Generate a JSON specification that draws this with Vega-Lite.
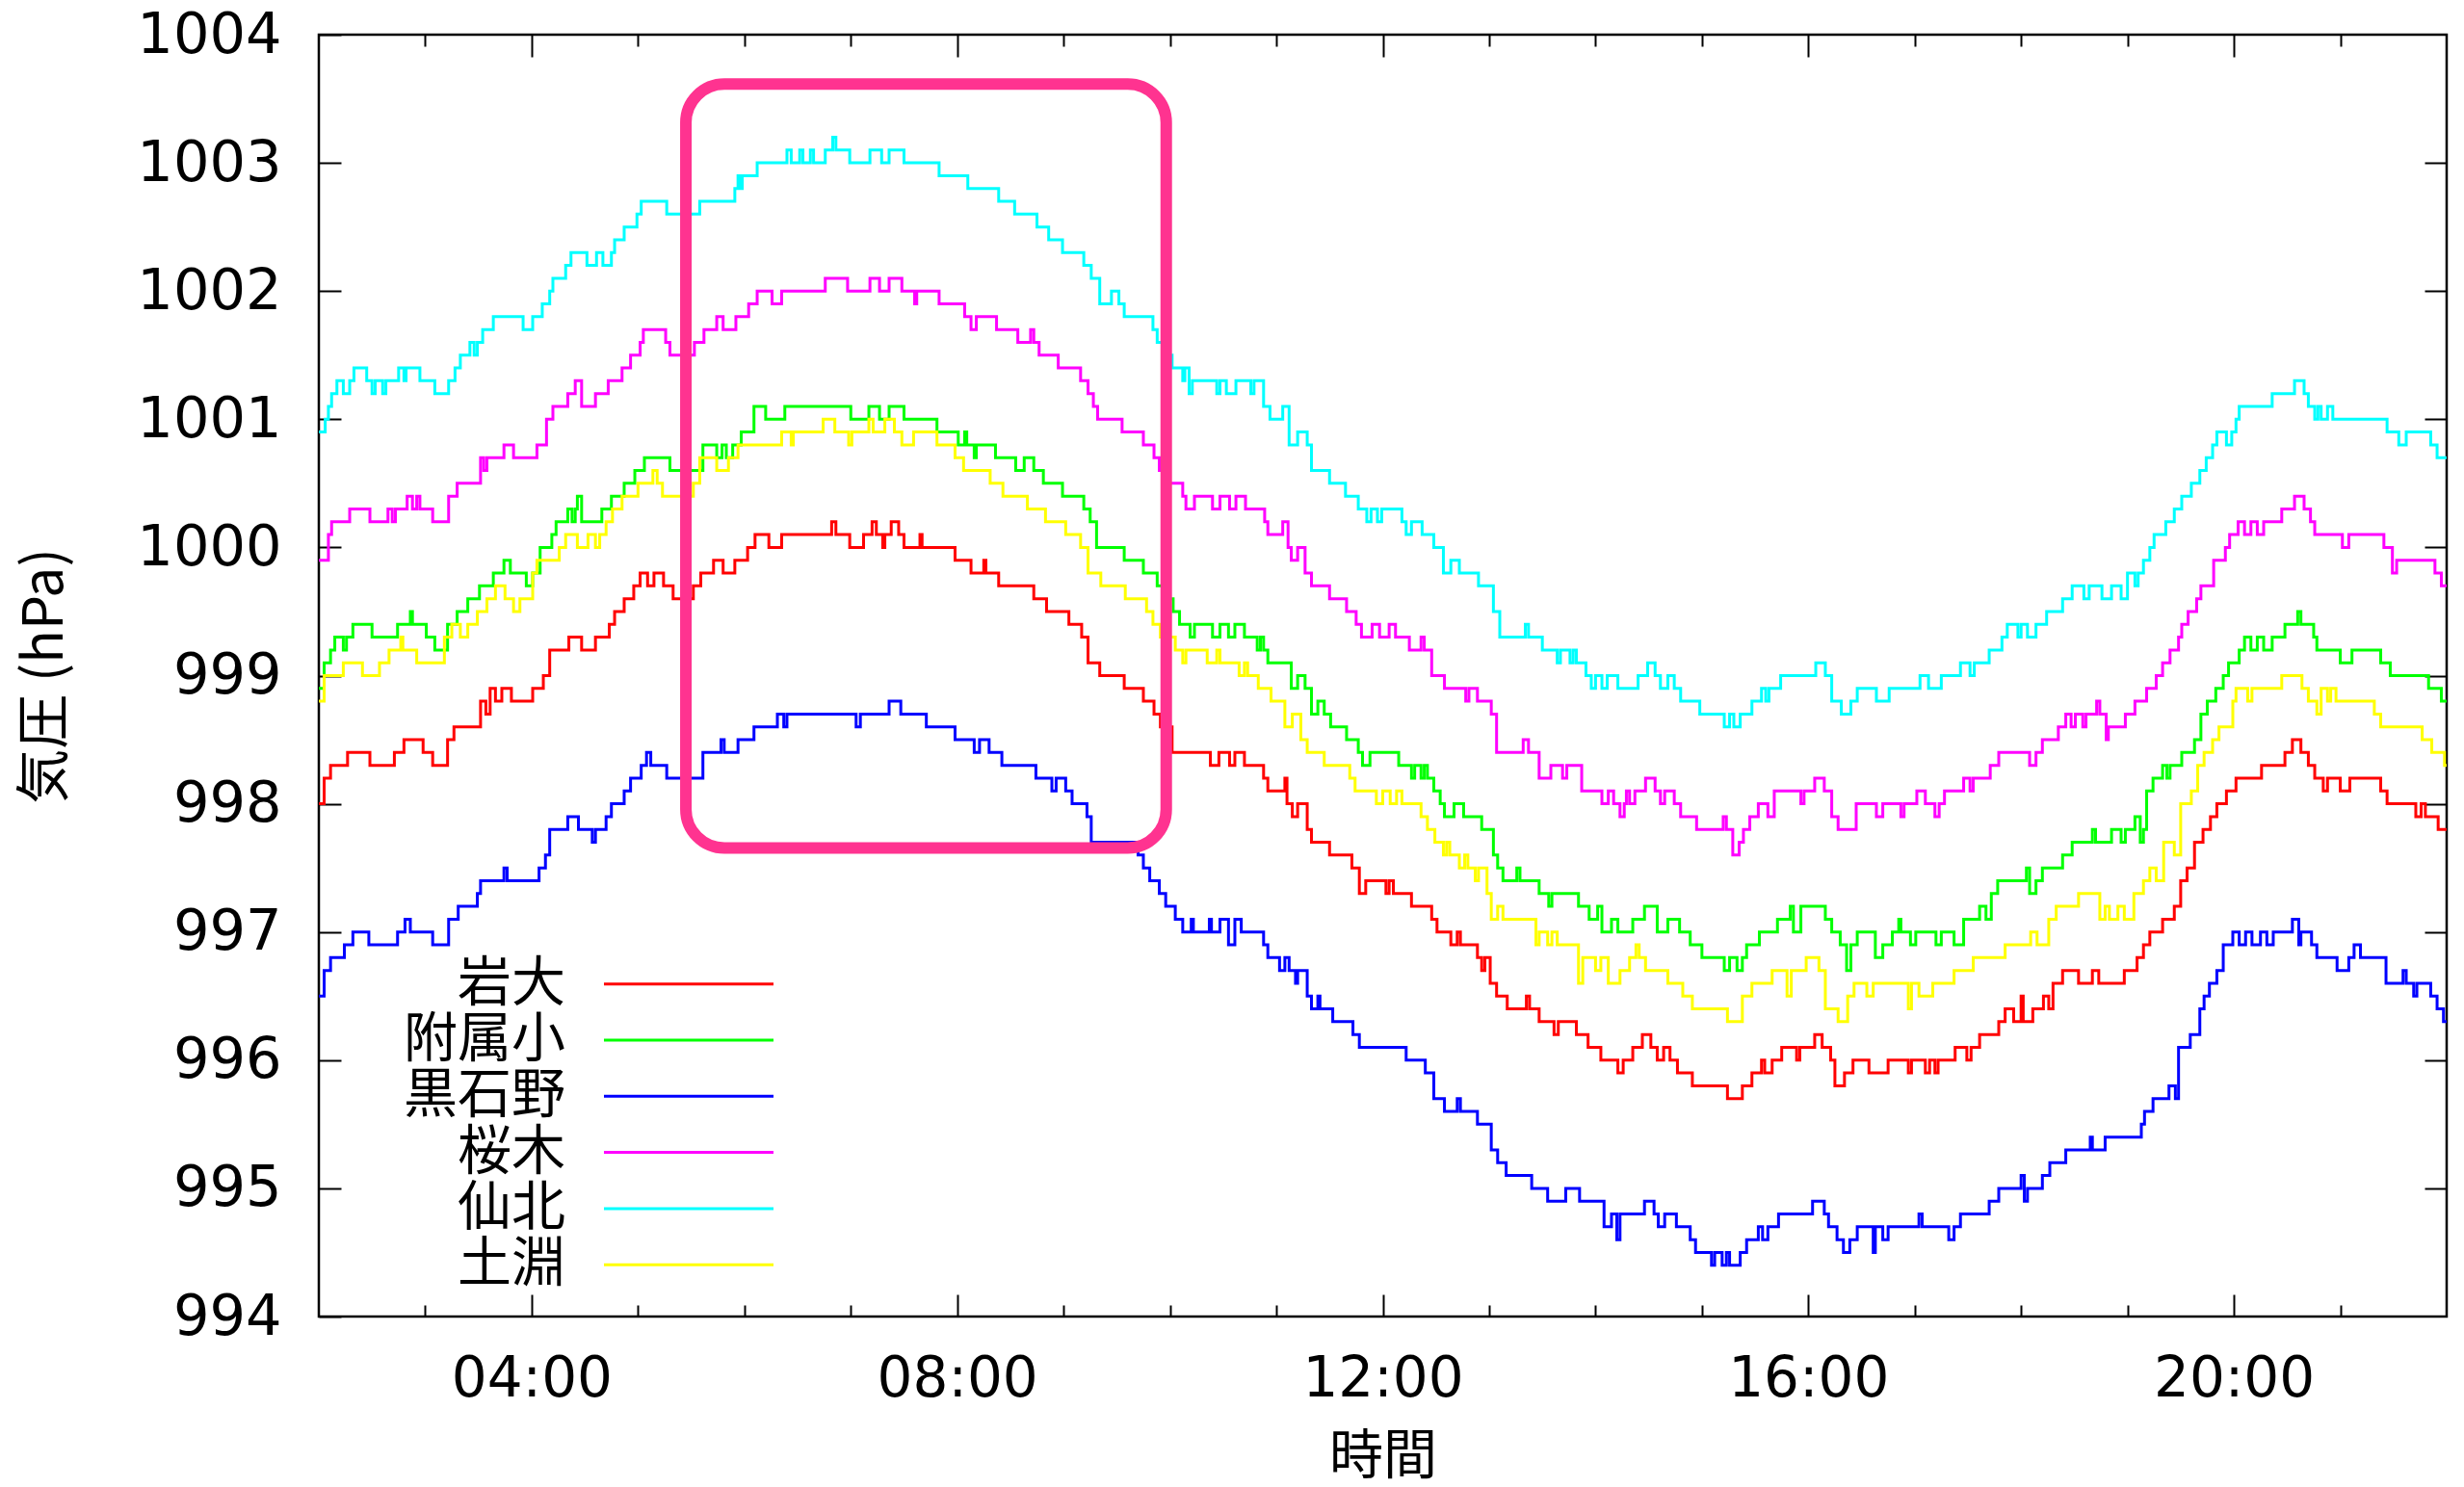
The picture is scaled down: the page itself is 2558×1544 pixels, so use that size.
{
"$schema":"https://vega.github.io/schema/vega-lite/v6.json",
"width":2209,"height":1331,
"autosize":{"type":"none"},
"padding":{"left":331,"top":36,"right":18,"bottom":177},
"background":"white",
"config":{"view":{"stroke":"black","strokeWidth":2.5}},
"datasets":{
"box":[{"t1":5.45,"t2":9.965,"p1":997.655,"p2":1003.615}],
"series":[
{"s":"岩大","t":2.00,"p":998.0},{"s":"岩大","t":2.05,"p":998.2},{"s":"岩大","t":2.11,"p":998.3},{"s":"岩大","t":2.27,"p":998.4},{"s":"岩大","t":2.48,"p":998.3},{"s":"岩大","t":2.71,"p":998.4},{"s":"岩大","t":2.80,"p":998.5},{"s":"岩大","t":2.98,"p":998.4},{"s":"岩大","t":3.07,"p":998.3},{"s":"岩大","t":3.21,"p":998.5},{"s":"岩大","t":3.27,"p":998.6},{"s":"岩大","t":3.52,"p":998.8},{"s":"岩大","t":3.57,"p":998.7},{"s":"岩大","t":3.61,"p":998.9},{"s":"岩大","t":3.66,"p":998.8},{"s":"岩大","t":3.72,"p":998.9},{"s":"岩大","t":3.81,"p":998.8},{"s":"岩大","t":4.01,"p":998.9},{"s":"岩大","t":4.11,"p":999.0},{"s":"岩大","t":4.17,"p":999.2},{"s":"岩大","t":4.35,"p":999.3},{"s":"岩大","t":4.47,"p":999.2},{"s":"岩大","t":4.60,"p":999.3},{"s":"岩大","t":4.73,"p":999.4},{"s":"岩大","t":4.78,"p":999.5},{"s":"岩大","t":4.87,"p":999.6},{"s":"岩大","t":4.96,"p":999.7},{"s":"岩大","t":5.02,"p":999.8},{"s":"岩大","t":5.09,"p":999.7},{"s":"岩大","t":5.15,"p":999.8},{"s":"岩大","t":5.24,"p":999.7},{"s":"岩大","t":5.33,"p":999.6},{"s":"岩大","t":5.52,"p":999.7},{"s":"岩大","t":5.59,"p":999.8},{"s":"岩大","t":5.71,"p":999.9},{"s":"岩大","t":5.80,"p":999.8},{"s":"岩大","t":5.91,"p":999.9},{"s":"岩大","t":6.03,"p":1000.0},{"s":"岩大","t":6.10,"p":1000.1},{"s":"岩大","t":6.23,"p":1000.0},{"s":"岩大","t":6.35,"p":1000.1},{"s":"岩大","t":6.82,"p":1000.2},{"s":"岩大","t":6.86,"p":1000.1},{"s":"岩大","t":6.99,"p":1000.0},{"s":"岩大","t":7.12,"p":1000.1},{"s":"岩大","t":7.20,"p":1000.2},{"s":"岩大","t":7.24,"p":1000.1},{"s":"岩大","t":7.30,"p":1000.0},{"s":"岩大","t":7.32,"p":1000.1},{"s":"岩大","t":7.38,"p":1000.2},{"s":"岩大","t":7.45,"p":1000.1},{"s":"岩大","t":7.50,"p":1000.0},{"s":"岩大","t":7.65,"p":1000.1},{"s":"岩大","t":7.67,"p":1000.0},{"s":"岩大","t":7.98,"p":999.9},{"s":"岩大","t":8.13,"p":999.8},{"s":"岩大","t":8.25,"p":999.9},{"s":"岩大","t":8.27,"p":999.8},{"s":"岩大","t":8.39,"p":999.7},{"s":"岩大","t":8.72,"p":999.6},{"s":"岩大","t":8.84,"p":999.5},{"s":"岩大","t":9.05,"p":999.4},{"s":"岩大","t":9.17,"p":999.3},{"s":"岩大","t":9.23,"p":999.1},{"s":"岩大","t":9.34,"p":999.0},{"s":"岩大","t":9.57,"p":998.9},{"s":"岩大","t":9.75,"p":998.8},{"s":"岩大","t":9.85,"p":998.7},{"s":"岩大","t":9.91,"p":998.6},{"s":"岩大","t":10.02,"p":998.4},{"s":"岩大","t":10.38,"p":998.3},{"s":"岩大","t":10.46,"p":998.4},{"s":"岩大","t":10.56,"p":998.3},{"s":"岩大","t":10.61,"p":998.4},{"s":"岩大","t":10.70,"p":998.3},{"s":"岩大","t":10.88,"p":998.2},{"s":"岩大","t":10.92,"p":998.1},{"s":"岩大","t":11.08,"p":998.2},{"s":"岩大","t":11.10,"p":998.0},{"s":"岩大","t":11.15,"p":997.9},{"s":"岩大","t":11.20,"p":998.0},{"s":"岩大","t":11.29,"p":997.8},{"s":"岩大","t":11.33,"p":997.7},{"s":"岩大","t":11.50,"p":997.6},{"s":"岩大","t":11.71,"p":997.5},{"s":"岩大","t":11.78,"p":997.3},{"s":"岩大","t":11.84,"p":997.4},{"s":"岩大","t":12.03,"p":997.3},{"s":"岩大","t":12.06,"p":997.4},{"s":"岩大","t":12.10,"p":997.3},{"s":"岩大","t":12.27,"p":997.2},{"s":"岩大","t":12.46,"p":997.1},{"s":"岩大","t":12.51,"p":997.0},{"s":"岩大","t":12.64,"p":996.9},{"s":"岩大","t":12.70,"p":997.0},{"s":"岩大","t":12.73,"p":996.9},{"s":"岩大","t":12.89,"p":996.8},{"s":"岩大","t":12.93,"p":996.7},{"s":"岩大","t":12.96,"p":996.8},{"s":"岩大","t":13.01,"p":996.6},{"s":"岩大","t":13.07,"p":996.5},{"s":"岩大","t":13.17,"p":996.4},{"s":"岩大","t":13.35,"p":996.5},{"s":"岩大","t":13.38,"p":996.4},{"s":"岩大","t":13.47,"p":996.3},{"s":"岩大","t":13.61,"p":996.2},{"s":"岩大","t":13.65,"p":996.3},{"s":"岩大","t":13.82,"p":996.2},{"s":"岩大","t":13.93,"p":996.1},{"s":"岩大","t":14.05,"p":996.0},{"s":"岩大","t":14.21,"p":995.9},{"s":"岩大","t":14.26,"p":996.0},{"s":"岩大","t":14.35,"p":996.1},{"s":"岩大","t":14.44,"p":996.2},{"s":"岩大","t":14.52,"p":996.1},{"s":"岩大","t":14.58,"p":996.0},{"s":"岩大","t":14.64,"p":996.1},{"s":"岩大","t":14.70,"p":996.0},{"s":"岩大","t":14.77,"p":995.9},{"s":"岩大","t":14.91,"p":995.8},{"s":"岩大","t":15.24,"p":995.7},{"s":"岩大","t":15.38,"p":995.8},{"s":"岩大","t":15.47,"p":995.9},{"s":"岩大","t":15.56,"p":996.0},{"s":"岩大","t":15.59,"p":995.9},{"s":"岩大","t":15.66,"p":996.0},{"s":"岩大","t":15.75,"p":996.1},{"s":"岩大","t":15.89,"p":996.0},{"s":"岩大","t":15.92,"p":996.1},{"s":"岩大","t":16.06,"p":996.2},{"s":"岩大","t":16.13,"p":996.1},{"s":"岩大","t":16.21,"p":996.0},{"s":"岩大","t":16.25,"p":995.8},{"s":"岩大","t":16.34,"p":995.9},{"s":"岩大","t":16.42,"p":996.0},{"s":"岩大","t":16.57,"p":995.9},{"s":"岩大","t":16.75,"p":996.0},{"s":"岩大","t":16.94,"p":995.9},{"s":"岩大","t":16.97,"p":996.0},{"s":"岩大","t":17.10,"p":995.9},{"s":"岩大","t":17.14,"p":996.0},{"s":"岩大","t":17.19,"p":995.9},{"s":"岩大","t":17.22,"p":996.0},{"s":"岩大","t":17.38,"p":996.1},{"s":"岩大","t":17.49,"p":996.0},{"s":"岩大","t":17.53,"p":996.1},{"s":"岩大","t":17.61,"p":996.2},{"s":"岩大","t":17.79,"p":996.3},{"s":"岩大","t":17.85,"p":996.4},{"s":"岩大","t":17.93,"p":996.3},{"s":"岩大","t":18.00,"p":996.5},{"s":"岩大","t":18.02,"p":996.3},{"s":"岩大","t":18.11,"p":996.4},{"s":"岩大","t":18.21,"p":996.5},{"s":"岩大","t":18.26,"p":996.4},{"s":"岩大","t":18.30,"p":996.6},{"s":"岩大","t":18.39,"p":996.7},{"s":"岩大","t":18.54,"p":996.6},{"s":"岩大","t":18.67,"p":996.7},{"s":"岩大","t":18.73,"p":996.6},{"s":"岩大","t":18.97,"p":996.7},{"s":"岩大","t":19.09,"p":996.8},{"s":"岩大","t":19.15,"p":996.9},{"s":"岩大","t":19.21,"p":997.0},{"s":"岩大","t":19.33,"p":997.1},{"s":"岩大","t":19.44,"p":997.2},{"s":"岩大","t":19.50,"p":997.4},{"s":"岩大","t":19.56,"p":997.5},{"s":"岩大","t":19.63,"p":997.7},{"s":"岩大","t":19.71,"p":997.8},{"s":"岩大","t":19.78,"p":997.9},{"s":"岩大","t":19.84,"p":998.0},{"s":"岩大","t":19.93,"p":998.1},{"s":"岩大","t":20.02,"p":998.2},{"s":"岩大","t":20.26,"p":998.3},{"s":"岩大","t":20.48,"p":998.4},{"s":"岩大","t":20.55,"p":998.5},{"s":"岩大","t":20.63,"p":998.4},{"s":"岩大","t":20.70,"p":998.3},{"s":"岩大","t":20.76,"p":998.2},{"s":"岩大","t":20.84,"p":998.1},{"s":"岩大","t":20.88,"p":998.2},{"s":"岩大","t":21.00,"p":998.1},{"s":"岩大","t":21.09,"p":998.2},{"s":"岩大","t":21.38,"p":998.1},{"s":"岩大","t":21.44,"p":998.0},{"s":"岩大","t":21.71,"p":997.9},{"s":"岩大","t":21.76,"p":998.0},{"s":"岩大","t":21.80,"p":997.9},{"s":"岩大","t":21.92,"p":997.8},{"s":"岩大","t":22.00,"p":997.8},
{"s":"附属小","t":2.00,"p":998.9},{"s":"附属小","t":2.05,"p":999.1},{"s":"附属小","t":2.11,"p":999.2},{"s":"附属小","t":2.15,"p":999.3},{"s":"附属小","t":2.23,"p":999.2},{"s":"附属小","t":2.26,"p":999.3},{"s":"附属小","t":2.32,"p":999.4},{"s":"附属小","t":2.50,"p":999.3},{"s":"附属小","t":2.74,"p":999.4},{"s":"附属小","t":2.86,"p":999.5},{"s":"附属小","t":2.88,"p":999.4},{"s":"附属小","t":3.01,"p":999.3},{"s":"附属小","t":3.09,"p":999.2},{"s":"附属小","t":3.21,"p":999.4},{"s":"附属小","t":3.30,"p":999.5},{"s":"附属小","t":3.40,"p":999.6},{"s":"附属小","t":3.51,"p":999.7},{"s":"附属小","t":3.64,"p":999.8},{"s":"附属小","t":3.74,"p":999.9},{"s":"附属小","t":3.80,"p":999.8},{"s":"附属小","t":3.95,"p":999.7},{"s":"附属小","t":4.01,"p":999.8},{"s":"附属小","t":4.08,"p":1000.0},{"s":"附属小","t":4.19,"p":1000.1},{"s":"附属小","t":4.23,"p":1000.2},{"s":"附属小","t":4.34,"p":1000.3},{"s":"附属小","t":4.38,"p":1000.2},{"s":"附属小","t":4.41,"p":1000.3},{"s":"附属小","t":4.43,"p":1000.4},{"s":"附属小","t":4.47,"p":1000.2},{"s":"附属小","t":4.66,"p":1000.3},{"s":"附属小","t":4.75,"p":1000.4},{"s":"附属小","t":4.87,"p":1000.5},{"s":"附属小","t":4.97,"p":1000.6},{"s":"附属小","t":5.06,"p":1000.7},{"s":"附属小","t":5.30,"p":1000.6},{"s":"附属小","t":5.61,"p":1000.8},{"s":"附属小","t":5.74,"p":1000.7},{"s":"附属小","t":5.79,"p":1000.8},{"s":"附属小","t":5.83,"p":1000.7},{"s":"附属小","t":5.89,"p":1000.8},{"s":"附属小","t":5.97,"p":1000.9},{"s":"附属小","t":6.09,"p":1001.1},{"s":"附属小","t":6.20,"p":1001.0},{"s":"附属小","t":6.38,"p":1001.1},{"s":"附属小","t":7.00,"p":1001.0},{"s":"附属小","t":7.17,"p":1001.1},{"s":"附属小","t":7.27,"p":1001.0},{"s":"附属小","t":7.36,"p":1001.1},{"s":"附属小","t":7.50,"p":1001.0},{"s":"附属小","t":7.81,"p":1000.9},{"s":"附属小","t":8.01,"p":1000.8},{"s":"附属小","t":8.07,"p":1000.9},{"s":"附属小","t":8.09,"p":1000.8},{"s":"附属小","t":8.16,"p":1000.7},{"s":"附属小","t":8.18,"p":1000.8},{"s":"附属小","t":8.36,"p":1000.7},{"s":"附属小","t":8.55,"p":1000.6},{"s":"附属小","t":8.63,"p":1000.7},{"s":"附属小","t":8.72,"p":1000.6},{"s":"附属小","t":8.81,"p":1000.5},{"s":"附属小","t":8.99,"p":1000.4},{"s":"附属小","t":9.19,"p":1000.3},{"s":"附属小","t":9.25,"p":1000.2},{"s":"附属小","t":9.31,"p":1000.0},{"s":"附属小","t":9.57,"p":999.9},{"s":"附属小","t":9.75,"p":999.8},{"s":"附属小","t":9.88,"p":999.7},{"s":"附属小","t":9.96,"p":999.6},{"s":"附属小","t":10.03,"p":999.5},{"s":"附属小","t":10.09,"p":999.4},{"s":"附属小","t":10.19,"p":999.3},{"s":"附属小","t":10.23,"p":999.4},{"s":"附属小","t":10.40,"p":999.3},{"s":"附属小","t":10.47,"p":999.4},{"s":"附属小","t":10.55,"p":999.3},{"s":"附属小","t":10.61,"p":999.4},{"s":"附属小","t":10.70,"p":999.3},{"s":"附属小","t":10.82,"p":999.2},{"s":"附属小","t":10.85,"p":999.3},{"s":"附属小","t":10.88,"p":999.2},{"s":"附属小","t":10.92,"p":999.1},{"s":"附属小","t":11.14,"p":998.9},{"s":"附属小","t":11.20,"p":999.0},{"s":"附属小","t":11.27,"p":998.9},{"s":"附属小","t":11.33,"p":998.7},{"s":"附属小","t":11.39,"p":998.8},{"s":"附属小","t":11.45,"p":998.7},{"s":"附属小","t":11.51,"p":998.6},{"s":"附属小","t":11.66,"p":998.5},{"s":"附属小","t":11.77,"p":998.4},{"s":"附属小","t":11.81,"p":998.3},{"s":"附属小","t":11.88,"p":998.4},{"s":"附属小","t":12.15,"p":998.3},{"s":"附属小","t":12.27,"p":998.2},{"s":"附属小","t":12.30,"p":998.3},{"s":"附属小","t":12.36,"p":998.2},{"s":"附属小","t":12.39,"p":998.3},{"s":"附属小","t":12.42,"p":998.2},{"s":"附属小","t":12.48,"p":998.1},{"s":"附属小","t":12.54,"p":998.0},{"s":"附属小","t":12.58,"p":997.9},{"s":"附属小","t":12.67,"p":998.0},{"s":"附属小","t":12.76,"p":997.9},{"s":"附属小","t":12.93,"p":997.8},{"s":"附属小","t":13.04,"p":997.6},{"s":"附属小","t":13.08,"p":997.5},{"s":"附属小","t":13.13,"p":997.4},{"s":"附属小","t":13.26,"p":997.5},{"s":"附属小","t":13.29,"p":997.4},{"s":"附属小","t":13.47,"p":997.3},{"s":"附属小","t":13.56,"p":997.2},{"s":"附属小","t":13.59,"p":997.3},{"s":"附属小","t":13.84,"p":997.2},{"s":"附属小","t":13.94,"p":997.1},{"s":"附属小","t":14.02,"p":997.2},{"s":"附属小","t":14.06,"p":997.0},{"s":"附属小","t":14.15,"p":997.1},{"s":"附属小","t":14.21,"p":997.0},{"s":"附属小","t":14.35,"p":997.1},{"s":"附属小","t":14.46,"p":997.2},{"s":"附属小","t":14.58,"p":997.0},{"s":"附属小","t":14.68,"p":997.1},{"s":"附属小","t":14.79,"p":997.0},{"s":"附属小","t":14.89,"p":996.9},{"s":"附属小","t":15.00,"p":996.8},{"s":"附属小","t":15.21,"p":996.7},{"s":"附属小","t":15.26,"p":996.8},{"s":"附属小","t":15.33,"p":996.7},{"s":"附属小","t":15.38,"p":996.8},{"s":"附属小","t":15.42,"p":996.9},{"s":"附属小","t":15.54,"p":997.0},{"s":"附属小","t":15.71,"p":997.1},{"s":"附属小","t":15.83,"p":997.2},{"s":"附属小","t":15.86,"p":997.0},{"s":"附属小","t":15.93,"p":997.2},{"s":"附属小","t":16.16,"p":997.1},{"s":"附属小","t":16.22,"p":997.0},{"s":"附属小","t":16.30,"p":996.9},{"s":"附属小","t":16.36,"p":996.7},{"s":"附属小","t":16.40,"p":996.9},{"s":"附属小","t":16.46,"p":997.0},{"s":"附属小","t":16.63,"p":996.8},{"s":"附属小","t":16.70,"p":996.9},{"s":"附属小","t":16.79,"p":997.0},{"s":"附属小","t":16.85,"p":997.1},{"s":"附属小","t":16.87,"p":997.0},{"s":"附属小","t":16.96,"p":996.9},{"s":"附属小","t":17.01,"p":997.0},{"s":"附属小","t":17.20,"p":996.9},{"s":"附属小","t":17.25,"p":997.0},{"s":"附属小","t":17.37,"p":996.9},{"s":"附属小","t":17.46,"p":997.1},{"s":"附属小","t":17.61,"p":997.2},{"s":"附属小","t":17.67,"p":997.1},{"s":"附属小","t":17.72,"p":997.3},{"s":"附属小","t":17.78,"p":997.4},{"s":"附属小","t":18.05,"p":997.5},{"s":"附属小","t":18.08,"p":997.3},{"s":"附属小","t":18.14,"p":997.4},{"s":"附属小","t":18.20,"p":997.5},{"s":"附属小","t":18.39,"p":997.6},{"s":"附属小","t":18.48,"p":997.7},{"s":"附属小","t":18.67,"p":997.8},{"s":"附属小","t":18.70,"p":997.7},{"s":"附属小","t":18.85,"p":997.8},{"s":"附属小","t":18.94,"p":997.7},{"s":"附属小","t":18.98,"p":997.8},{"s":"附属小","t":19.07,"p":997.9},{"s":"附属小","t":19.12,"p":997.7},{"s":"附属小","t":19.15,"p":997.8},{"s":"附属小","t":19.18,"p":998.1},{"s":"附属小","t":19.24,"p":998.2},{"s":"附属小","t":19.33,"p":998.3},{"s":"附属小","t":19.37,"p":998.2},{"s":"附属小","t":19.40,"p":998.3},{"s":"附属小","t":19.51,"p":998.4},{"s":"附属小","t":19.63,"p":998.5},{"s":"附属小","t":19.69,"p":998.7},{"s":"附属小","t":19.75,"p":998.8},{"s":"附属小","t":19.83,"p":998.9},{"s":"附属小","t":19.90,"p":999.0},{"s":"附属小","t":19.95,"p":999.1},{"s":"附属小","t":20.05,"p":999.2},{"s":"附属小","t":20.10,"p":999.3},{"s":"附属小","t":20.16,"p":999.2},{"s":"附属小","t":20.22,"p":999.3},{"s":"附属小","t":20.28,"p":999.2},{"s":"附属小","t":20.36,"p":999.3},{"s":"附属小","t":20.48,"p":999.4},{"s":"附属小","t":20.60,"p":999.5},{"s":"附属小","t":20.63,"p":999.4},{"s":"附属小","t":20.75,"p":999.3},{"s":"附属小","t":20.78,"p":999.2},{"s":"附属小","t":21.00,"p":999.1},{"s":"附属小","t":21.11,"p":999.2},{"s":"附属小","t":21.38,"p":999.1},{"s":"附属小","t":21.47,"p":999.0},{"s":"附属小","t":21.83,"p":998.9},{"s":"附属小","t":21.95,"p":998.8},{"s":"附属小","t":22.00,"p":998.8},
{"s":"黒石野","t":2.00,"p":996.5},{"s":"黒石野","t":2.05,"p":996.7},{"s":"黒石野","t":2.11,"p":996.8},{"s":"黒石野","t":2.24,"p":996.9},{"s":"黒石野","t":2.32,"p":997.0},{"s":"黒石野","t":2.47,"p":996.9},{"s":"黒石野","t":2.74,"p":997.0},{"s":"黒石野","t":2.81,"p":997.1},{"s":"黒石野","t":2.86,"p":997.0},{"s":"黒石野","t":3.07,"p":996.9},{"s":"黒石野","t":3.22,"p":997.1},{"s":"黒石野","t":3.31,"p":997.2},{"s":"黒石野","t":3.49,"p":997.3},{"s":"黒石野","t":3.52,"p":997.4},{"s":"黒石野","t":3.74,"p":997.5},{"s":"黒石野","t":3.77,"p":997.4},{"s":"黒石野","t":4.07,"p":997.5},{"s":"黒石野","t":4.13,"p":997.6},{"s":"黒石野","t":4.17,"p":997.8},{"s":"黒石野","t":4.34,"p":997.9},{"s":"黒石野","t":4.44,"p":997.8},{"s":"黒石野","t":4.57,"p":997.7},{"s":"黒石野","t":4.60,"p":997.8},{"s":"黒石野","t":4.70,"p":997.9},{"s":"黒石野","t":4.75,"p":998.0},{"s":"黒石野","t":4.87,"p":998.1},{"s":"黒石野","t":4.93,"p":998.2},{"s":"黒石野","t":5.03,"p":998.3},{"s":"黒石野","t":5.08,"p":998.4},{"s":"黒石野","t":5.12,"p":998.3},{"s":"黒石野","t":5.27,"p":998.2},{"s":"黒石野","t":5.61,"p":998.4},{"s":"黒石野","t":5.78,"p":998.5},{"s":"黒石野","t":5.81,"p":998.4},{"s":"黒石野","t":5.94,"p":998.5},{"s":"黒石野","t":6.09,"p":998.6},{"s":"黒石野","t":6.31,"p":998.7},{"s":"黒石野","t":6.37,"p":998.6},{"s":"黒石野","t":6.40,"p":998.7},{"s":"黒石野","t":7.05,"p":998.6},{"s":"黒石野","t":7.09,"p":998.7},{"s":"黒石野","t":7.36,"p":998.8},{"s":"黒石野","t":7.47,"p":998.7},{"s":"黒石野","t":7.71,"p":998.6},{"s":"黒石野","t":7.98,"p":998.5},{"s":"黒石野","t":8.16,"p":998.4},{"s":"黒石野","t":8.21,"p":998.5},{"s":"黒石野","t":8.30,"p":998.4},{"s":"黒石野","t":8.42,"p":998.3},{"s":"黒石野","t":8.74,"p":998.2},{"s":"黒石野","t":8.89,"p":998.1},{"s":"黒石野","t":8.93,"p":998.2},{"s":"黒石野","t":9.02,"p":998.1},{"s":"黒石野","t":9.08,"p":998.0},{"s":"黒石野","t":9.22,"p":997.9},{"s":"黒石野","t":9.26,"p":997.7},{"s":"黒石野","t":9.70,"p":997.6},{"s":"黒石野","t":9.75,"p":997.5},{"s":"黒石野","t":9.81,"p":997.4},{"s":"黒石野","t":9.90,"p":997.3},{"s":"黒石野","t":9.96,"p":997.2},{"s":"黒石野","t":10.05,"p":997.1},{"s":"黒石野","t":10.12,"p":997.0},{"s":"黒石野","t":10.20,"p":997.1},{"s":"黒石野","t":10.22,"p":997.0},{"s":"黒石野","t":10.37,"p":997.1},{"s":"黒石野","t":10.39,"p":997.0},{"s":"黒石野","t":10.47,"p":997.1},{"s":"黒石野","t":10.55,"p":996.9},{"s":"黒石野","t":10.61,"p":997.1},{"s":"黒石野","t":10.67,"p":997.0},{"s":"黒石野","t":10.88,"p":996.9},{"s":"黒石野","t":10.92,"p":996.8},{"s":"黒石野","t":11.03,"p":996.7},{"s":"黒石野","t":11.08,"p":996.8},{"s":"黒石野","t":11.12,"p":996.7},{"s":"黒石野","t":11.18,"p":996.6},{"s":"黒石野","t":11.20,"p":996.7},{"s":"黒石野","t":11.29,"p":996.5},{"s":"黒石野","t":11.33,"p":996.4},{"s":"黒石野","t":11.39,"p":996.5},{"s":"黒石野","t":11.41,"p":996.4},{"s":"黒石野","t":11.53,"p":996.3},{"s":"黒石野","t":11.72,"p":996.2},{"s":"黒石野","t":11.78,"p":996.1},{"s":"黒石野","t":12.22,"p":996.0},{"s":"黒石野","t":12.40,"p":995.9},{"s":"黒石野","t":12.48,"p":995.7},{"s":"黒石野","t":12.58,"p":995.6},{"s":"黒石野","t":12.70,"p":995.7},{"s":"黒石野","t":12.73,"p":995.6},{"s":"黒石野","t":12.89,"p":995.5},{"s":"黒石野","t":13.02,"p":995.3},{"s":"黒石野","t":13.08,"p":995.2},{"s":"黒石野","t":13.16,"p":995.1},{"s":"黒石野","t":13.40,"p":995.0},{"s":"黒石野","t":13.55,"p":994.9},{"s":"黒石野","t":13.72,"p":995.0},{"s":"黒石野","t":13.85,"p":994.9},{"s":"黒石野","t":14.08,"p":994.7},{"s":"黒石野","t":14.15,"p":994.8},{"s":"黒石野","t":14.20,"p":994.6},{"s":"黒石野","t":14.23,"p":994.8},{"s":"黒石野","t":14.46,"p":994.9},{"s":"黒石野","t":14.55,"p":994.8},{"s":"黒石野","t":14.59,"p":994.7},{"s":"黒石野","t":14.65,"p":994.8},{"s":"黒石野","t":14.76,"p":994.7},{"s":"黒石野","t":14.89,"p":994.6},{"s":"黒石野","t":14.94,"p":994.5},{"s":"黒石野","t":15.09,"p":994.4},{"s":"黒石野","t":15.12,"p":994.5},{"s":"黒石野","t":15.19,"p":994.4},{"s":"黒石野","t":15.23,"p":994.5},{"s":"黒石野","t":15.26,"p":994.4},{"s":"黒石野","t":15.36,"p":994.5},{"s":"黒石野","t":15.42,"p":994.6},{"s":"黒石野","t":15.53,"p":994.7},{"s":"黒石野","t":15.57,"p":994.6},{"s":"黒石野","t":15.62,"p":994.7},{"s":"黒石野","t":15.72,"p":994.8},{"s":"黒石野","t":16.04,"p":994.9},{"s":"黒石野","t":16.15,"p":994.8},{"s":"黒石野","t":16.19,"p":994.7},{"s":"黒石野","t":16.27,"p":994.6},{"s":"黒石野","t":16.33,"p":994.5},{"s":"黒石野","t":16.39,"p":994.6},{"s":"黒石野","t":16.46,"p":994.7},{"s":"黒石野","t":16.61,"p":994.5},{"s":"黒石野","t":16.63,"p":994.7},{"s":"黒石野","t":16.70,"p":994.6},{"s":"黒石野","t":16.75,"p":994.7},{"s":"黒石野","t":17.04,"p":994.8},{"s":"黒石野","t":17.07,"p":994.7},{"s":"黒石野","t":17.32,"p":994.6},{"s":"黒石野","t":17.37,"p":994.7},{"s":"黒石野","t":17.43,"p":994.8},{"s":"黒石野","t":17.70,"p":994.9},{"s":"黒石野","t":17.79,"p":995.0},{"s":"黒石野","t":18.00,"p":995.1},{"s":"黒石野","t":18.03,"p":994.9},{"s":"黒石野","t":18.06,"p":995.0},{"s":"黒石野","t":18.20,"p":995.1},{"s":"黒石野","t":18.27,"p":995.2},{"s":"黒石野","t":18.42,"p":995.3},{"s":"黒石野","t":18.65,"p":995.4},{"s":"黒石野","t":18.67,"p":995.3},{"s":"黒石野","t":18.79,"p":995.4},{"s":"黒石野","t":19.13,"p":995.5},{"s":"黒石野","t":19.16,"p":995.6},{"s":"黒石野","t":19.24,"p":995.7},{"s":"黒石野","t":19.39,"p":995.8},{"s":"黒石野","t":19.45,"p":995.7},{"s":"黒石野","t":19.48,"p":996.1},{"s":"黒石野","t":19.59,"p":996.2},{"s":"黒石野","t":19.68,"p":996.4},{"s":"黒石野","t":19.72,"p":996.5},{"s":"黒石野","t":19.77,"p":996.6},{"s":"黒石野","t":19.84,"p":996.7},{"s":"黒石野","t":19.90,"p":996.9},{"s":"黒石野","t":19.99,"p":997.0},{"s":"黒石野","t":20.05,"p":996.9},{"s":"黒石野","t":20.11,"p":997.0},{"s":"黒石野","t":20.17,"p":996.9},{"s":"黒石野","t":20.25,"p":997.0},{"s":"黒石野","t":20.31,"p":996.9},{"s":"黒石野","t":20.37,"p":997.0},{"s":"黒石野","t":20.55,"p":997.1},{"s":"黒石野","t":20.61,"p":996.9},{"s":"黒石野","t":20.63,"p":997.0},{"s":"黒石野","t":20.73,"p":996.9},{"s":"黒石野","t":20.78,"p":996.8},{"s":"黒石野","t":20.97,"p":996.7},{"s":"黒石野","t":21.08,"p":996.8},{"s":"黒石野","t":21.13,"p":996.9},{"s":"黒石野","t":21.19,"p":996.8},{"s":"黒石野","t":21.43,"p":996.6},{"s":"黒石野","t":21.59,"p":996.7},{"s":"黒石野","t":21.62,"p":996.6},{"s":"黒石野","t":21.69,"p":996.5},{"s":"黒石野","t":21.72,"p":996.6},{"s":"黒石野","t":21.85,"p":996.5},{"s":"黒石野","t":21.91,"p":996.4},{"s":"黒石野","t":21.97,"p":996.3},{"s":"黒石野","t":22.00,"p":996.3},
{"s":"桜木","t":2.00,"p":999.9},{"s":"桜木","t":2.09,"p":1000.1},{"s":"桜木","t":2.12,"p":1000.2},{"s":"桜木","t":2.29,"p":1000.3},{"s":"桜木","t":2.48,"p":1000.2},{"s":"桜木","t":2.65,"p":1000.3},{"s":"桜木","t":2.69,"p":1000.2},{"s":"桜木","t":2.72,"p":1000.3},{"s":"桜木","t":2.83,"p":1000.4},{"s":"桜木","t":2.88,"p":1000.3},{"s":"桜木","t":2.92,"p":1000.4},{"s":"桜木","t":2.95,"p":1000.3},{"s":"桜木","t":3.07,"p":1000.2},{"s":"桜木","t":3.22,"p":1000.4},{"s":"桜木","t":3.30,"p":1000.5},{"s":"桜木","t":3.52,"p":1000.7},{"s":"桜木","t":3.55,"p":1000.6},{"s":"桜木","t":3.58,"p":1000.7},{"s":"桜木","t":3.74,"p":1000.8},{"s":"桜木","t":3.83,"p":1000.7},{"s":"桜木","t":4.05,"p":1000.8},{"s":"桜木","t":4.14,"p":1001.0},{"s":"桜木","t":4.20,"p":1001.1},{"s":"桜木","t":4.34,"p":1001.2},{"s":"桜木","t":4.41,"p":1001.3},{"s":"桜木","t":4.47,"p":1001.1},{"s":"桜木","t":4.60,"p":1001.2},{"s":"桜木","t":4.72,"p":1001.3},{"s":"桜木","t":4.85,"p":1001.4},{"s":"桜木","t":4.93,"p":1001.5},{"s":"桜木","t":5.02,"p":1001.6},{"s":"桜木","t":5.05,"p":1001.7},{"s":"桜木","t":5.26,"p":1001.6},{"s":"桜木","t":5.30,"p":1001.5},{"s":"桜木","t":5.53,"p":1001.6},{"s":"桜木","t":5.62,"p":1001.7},{"s":"桜木","t":5.74,"p":1001.8},{"s":"桜木","t":5.80,"p":1001.7},{"s":"桜木","t":5.92,"p":1001.8},{"s":"桜木","t":6.04,"p":1001.9},{"s":"桜木","t":6.12,"p":1002.0},{"s":"桜木","t":6.26,"p":1001.9},{"s":"桜木","t":6.35,"p":1002.0},{"s":"桜木","t":6.76,"p":1002.1},{"s":"桜木","t":6.97,"p":1002.0},{"s":"桜木","t":7.18,"p":1002.1},{"s":"桜木","t":7.27,"p":1002.0},{"s":"桜木","t":7.36,"p":1002.1},{"s":"桜木","t":7.48,"p":1002.0},{"s":"桜木","t":7.60,"p":1001.9},{"s":"桜木","t":7.62,"p":1002.0},{"s":"桜木","t":7.83,"p":1001.9},{"s":"桜木","t":8.07,"p":1001.8},{"s":"桜木","t":8.13,"p":1001.7},{"s":"桜木","t":8.18,"p":1001.8},{"s":"桜木","t":8.37,"p":1001.7},{"s":"桜木","t":8.57,"p":1001.6},{"s":"桜木","t":8.69,"p":1001.7},{"s":"桜木","t":8.72,"p":1001.6},{"s":"桜木","t":8.77,"p":1001.5},{"s":"桜木","t":8.95,"p":1001.4},{"s":"桜木","t":9.16,"p":1001.3},{"s":"桜木","t":9.23,"p":1001.2},{"s":"桜木","t":9.28,"p":1001.1},{"s":"桜木","t":9.32,"p":1001.0},{"s":"桜木","t":9.55,"p":1000.9},{"s":"桜木","t":9.75,"p":1000.8},{"s":"桜木","t":9.85,"p":1000.7},{"s":"桜木","t":9.90,"p":1000.6},{"s":"桜木","t":9.99,"p":1000.5},{"s":"桜木","t":10.12,"p":1000.4},{"s":"桜木","t":10.15,"p":1000.3},{"s":"桜木","t":10.23,"p":1000.4},{"s":"桜木","t":10.40,"p":1000.3},{"s":"桜木","t":10.47,"p":1000.4},{"s":"桜木","t":10.56,"p":1000.3},{"s":"桜木","t":10.62,"p":1000.4},{"s":"桜木","t":10.71,"p":1000.3},{"s":"桜木","t":10.89,"p":1000.2},{"s":"桜木","t":10.92,"p":1000.1},{"s":"桜木","t":11.06,"p":1000.2},{"s":"桜木","t":11.11,"p":1000.0},{"s":"桜木","t":11.14,"p":999.9},{"s":"桜木","t":11.20,"p":1000.0},{"s":"桜木","t":11.27,"p":999.8},{"s":"桜木","t":11.33,"p":999.7},{"s":"桜木","t":11.50,"p":999.6},{"s":"桜木","t":11.66,"p":999.5},{"s":"桜木","t":11.75,"p":999.4},{"s":"桜木","t":11.80,"p":999.3},{"s":"桜木","t":11.90,"p":999.4},{"s":"桜木","t":11.97,"p":999.3},{"s":"桜木","t":12.06,"p":999.4},{"s":"桜木","t":12.12,"p":999.3},{"s":"桜木","t":12.25,"p":999.2},{"s":"桜木","t":12.36,"p":999.3},{"s":"桜木","t":12.39,"p":999.2},{"s":"桜木","t":12.46,"p":999.0},{"s":"桜木","t":12.58,"p":998.9},{"s":"桜木","t":12.78,"p":998.8},{"s":"桜木","t":12.81,"p":998.9},{"s":"桜木","t":12.89,"p":998.8},{"s":"桜木","t":13.02,"p":998.7},{"s":"桜木","t":13.07,"p":998.4},{"s":"桜木","t":13.32,"p":998.5},{"s":"桜木","t":13.37,"p":998.4},{"s":"桜木","t":13.47,"p":998.2},{"s":"桜木","t":13.58,"p":998.3},{"s":"桜木","t":13.69,"p":998.2},{"s":"桜木","t":13.73,"p":998.3},{"s":"桜木","t":13.87,"p":998.1},{"s":"桜木","t":14.06,"p":998.0},{"s":"桜木","t":14.12,"p":998.1},{"s":"桜木","t":14.17,"p":998.0},{"s":"桜木","t":14.23,"p":997.9},{"s":"桜木","t":14.27,"p":998.0},{"s":"桜木","t":14.29,"p":998.1},{"s":"桜木","t":14.32,"p":998.0},{"s":"桜木","t":14.37,"p":998.1},{"s":"桜木","t":14.47,"p":998.2},{"s":"桜木","t":14.56,"p":998.1},{"s":"桜木","t":14.61,"p":998.0},{"s":"桜木","t":14.65,"p":998.1},{"s":"桜木","t":14.74,"p":998.0},{"s":"桜木","t":14.80,"p":997.9},{"s":"桜木","t":14.95,"p":997.8},{"s":"桜木","t":15.20,"p":997.9},{"s":"桜木","t":15.23,"p":997.8},{"s":"桜木","t":15.29,"p":997.6},{"s":"桜木","t":15.35,"p":997.7},{"s":"桜木","t":15.39,"p":997.8},{"s":"桜木","t":15.45,"p":997.9},{"s":"桜木","t":15.53,"p":998.0},{"s":"桜木","t":15.62,"p":997.9},{"s":"桜木","t":15.68,"p":998.1},{"s":"桜木","t":15.93,"p":998.0},{"s":"桜木","t":15.96,"p":998.1},{"s":"桜木","t":16.06,"p":998.2},{"s":"桜木","t":16.15,"p":998.1},{"s":"桜木","t":16.22,"p":997.9},{"s":"桜木","t":16.28,"p":997.8},{"s":"桜木","t":16.45,"p":998.0},{"s":"桜木","t":16.64,"p":997.9},{"s":"桜木","t":16.70,"p":998.0},{"s":"桜木","t":16.87,"p":997.9},{"s":"桜木","t":16.90,"p":998.0},{"s":"桜木","t":17.02,"p":998.1},{"s":"桜木","t":17.10,"p":998.0},{"s":"桜木","t":17.19,"p":997.9},{"s":"桜木","t":17.23,"p":998.0},{"s":"桜木","t":17.28,"p":998.1},{"s":"桜木","t":17.46,"p":998.2},{"s":"桜木","t":17.52,"p":998.1},{"s":"桜木","t":17.55,"p":998.2},{"s":"桜木","t":17.71,"p":998.3},{"s":"桜木","t":17.79,"p":998.4},{"s":"桜木","t":18.08,"p":998.3},{"s":"桜木","t":18.14,"p":998.4},{"s":"桜木","t":18.20,"p":998.5},{"s":"桜木","t":18.35,"p":998.6},{"s":"桜木","t":18.42,"p":998.7},{"s":"桜木","t":18.47,"p":998.6},{"s":"桜木","t":18.51,"p":998.7},{"s":"桜木","t":18.58,"p":998.6},{"s":"桜木","t":18.61,"p":998.7},{"s":"桜木","t":18.71,"p":998.8},{"s":"桜木","t":18.74,"p":998.7},{"s":"桜木","t":18.80,"p":998.5},{"s":"桜木","t":18.82,"p":998.6},{"s":"桜木","t":18.98,"p":998.7},{"s":"桜木","t":19.07,"p":998.8},{"s":"桜木","t":19.18,"p":998.9},{"s":"桜木","t":19.27,"p":999.0},{"s":"桜木","t":19.33,"p":999.1},{"s":"桜木","t":19.40,"p":999.2},{"s":"桜木","t":19.48,"p":999.3},{"s":"桜木","t":19.51,"p":999.4},{"s":"桜木","t":19.57,"p":999.5},{"s":"桜木","t":19.65,"p":999.6},{"s":"桜木","t":19.69,"p":999.7},{"s":"桜木","t":19.81,"p":999.9},{"s":"桜木","t":19.92,"p":1000.0},{"s":"桜木","t":19.96,"p":1000.1},{"s":"桜木","t":20.04,"p":1000.2},{"s":"桜木","t":20.10,"p":1000.1},{"s":"桜木","t":20.16,"p":1000.2},{"s":"桜木","t":20.22,"p":1000.1},{"s":"桜木","t":20.28,"p":1000.2},{"s":"桜木","t":20.45,"p":1000.3},{"s":"桜木","t":20.57,"p":1000.4},{"s":"桜木","t":20.66,"p":1000.3},{"s":"桜木","t":20.72,"p":1000.2},{"s":"桜木","t":20.76,"p":1000.1},{"s":"桜木","t":21.02,"p":1000.0},{"s":"桜木","t":21.08,"p":1000.1},{"s":"桜木","t":21.41,"p":1000.0},{"s":"桜木","t":21.49,"p":999.8},{"s":"桜木","t":21.53,"p":999.9},{"s":"桜木","t":21.89,"p":999.8},{"s":"桜木","t":21.95,"p":999.7},{"s":"桜木","t":22.00,"p":999.7},
{"s":"仙北","t":2.00,"p":1000.9},{"s":"仙北","t":2.06,"p":1001.0},{"s":"仙北","t":2.09,"p":1001.1},{"s":"仙北","t":2.12,"p":1001.2},{"s":"仙北","t":2.17,"p":1001.3},{"s":"仙北","t":2.23,"p":1001.2},{"s":"仙北","t":2.29,"p":1001.3},{"s":"仙北","t":2.33,"p":1001.4},{"s":"仙北","t":2.45,"p":1001.3},{"s":"仙北","t":2.50,"p":1001.2},{"s":"仙北","t":2.53,"p":1001.3},{"s":"仙北","t":2.60,"p":1001.2},{"s":"仙北","t":2.63,"p":1001.3},{"s":"仙北","t":2.75,"p":1001.4},{"s":"仙北","t":2.80,"p":1001.3},{"s":"仙北","t":2.82,"p":1001.4},{"s":"仙北","t":2.95,"p":1001.3},{"s":"仙北","t":3.09,"p":1001.2},{"s":"仙北","t":3.22,"p":1001.3},{"s":"仙北","t":3.28,"p":1001.4},{"s":"仙北","t":3.33,"p":1001.5},{"s":"仙北","t":3.42,"p":1001.6},{"s":"仙北","t":3.46,"p":1001.5},{"s":"仙北","t":3.49,"p":1001.6},{"s":"仙北","t":3.54,"p":1001.7},{"s":"仙北","t":3.64,"p":1001.8},{"s":"仙北","t":3.92,"p":1001.7},{"s":"仙北","t":4.01,"p":1001.8},{"s":"仙北","t":4.10,"p":1001.9},{"s":"仙北","t":4.17,"p":1002.0},{"s":"仙北","t":4.20,"p":1002.1},{"s":"仙北","t":4.32,"p":1002.2},{"s":"仙北","t":4.37,"p":1002.3},{"s":"仙北","t":4.52,"p":1002.2},{"s":"仙北","t":4.61,"p":1002.3},{"s":"仙北","t":4.67,"p":1002.2},{"s":"仙北","t":4.75,"p":1002.3},{"s":"仙北","t":4.78,"p":1002.4},{"s":"仙北","t":4.87,"p":1002.5},{"s":"仙北","t":4.99,"p":1002.6},{"s":"仙北","t":5.03,"p":1002.7},{"s":"仙北","t":5.27,"p":1002.6},{"s":"仙北","t":5.58,"p":1002.7},{"s":"仙北","t":5.91,"p":1002.8},{"s":"仙北","t":5.94,"p":1002.9},{"s":"仙北","t":5.96,"p":1002.8},{"s":"仙北","t":5.98,"p":1002.9},{"s":"仙北","t":6.12,"p":1003.0},{"s":"仙北","t":6.40,"p":1003.1},{"s":"仙北","t":6.44,"p":1003.0},{"s":"仙北","t":6.52,"p":1003.1},{"s":"仙北","t":6.55,"p":1003.0},{"s":"仙北","t":6.62,"p":1003.1},{"s":"仙北","t":6.65,"p":1003.0},{"s":"仙北","t":6.76,"p":1003.1},{"s":"仙北","t":6.83,"p":1003.2},{"s":"仙北","t":6.86,"p":1003.1},{"s":"仙北","t":6.99,"p":1003.0},{"s":"仙北","t":7.18,"p":1003.1},{"s":"仙北","t":7.29,"p":1003.0},{"s":"仙北","t":7.36,"p":1003.1},{"s":"仙北","t":7.50,"p":1003.0},{"s":"仙北","t":7.83,"p":1002.9},{"s":"仙北","t":8.10,"p":1002.8},{"s":"仙北","t":8.39,"p":1002.7},{"s":"仙北","t":8.54,"p":1002.6},{"s":"仙北","t":8.75,"p":1002.5},{"s":"仙北","t":8.86,"p":1002.4},{"s":"仙北","t":8.99,"p":1002.3},{"s":"仙北","t":9.19,"p":1002.2},{"s":"仙北","t":9.26,"p":1002.1},{"s":"仙北","t":9.34,"p":1001.9},{"s":"仙北","t":9.45,"p":1002.0},{"s":"仙北","t":9.52,"p":1001.9},{"s":"仙北","t":9.57,"p":1001.8},{"s":"仙北","t":9.84,"p":1001.7},{"s":"仙北","t":9.88,"p":1001.6},{"s":"仙北","t":9.94,"p":1001.5},{"s":"仙北","t":10.02,"p":1001.4},{"s":"仙北","t":10.12,"p":1001.3},{"s":"仙北","t":10.14,"p":1001.4},{"s":"仙北","t":10.18,"p":1001.2},{"s":"仙北","t":10.21,"p":1001.3},{"s":"仙北","t":10.44,"p":1001.2},{"s":"仙北","t":10.47,"p":1001.3},{"s":"仙北","t":10.53,"p":1001.2},{"s":"仙北","t":10.62,"p":1001.3},{"s":"仙北","t":10.76,"p":1001.2},{"s":"仙北","t":10.79,"p":1001.3},{"s":"仙北","t":10.88,"p":1001.1},{"s":"仙北","t":10.94,"p":1001.0},{"s":"仙北","t":11.06,"p":1001.1},{"s":"仙北","t":11.12,"p":1000.8},{"s":"仙北","t":11.20,"p":1000.9},{"s":"仙北","t":11.29,"p":1000.8},{"s":"仙北","t":11.33,"p":1000.6},{"s":"仙北","t":11.50,"p":1000.5},{"s":"仙北","t":11.65,"p":1000.4},{"s":"仙北","t":11.77,"p":1000.3},{"s":"仙北","t":11.85,"p":1000.2},{"s":"仙北","t":11.89,"p":1000.3},{"s":"仙北","t":11.95,"p":1000.2},{"s":"仙北","t":11.99,"p":1000.3},{"s":"仙北","t":12.18,"p":1000.2},{"s":"仙北","t":12.22,"p":1000.1},{"s":"仙北","t":12.27,"p":1000.2},{"s":"仙北","t":12.37,"p":1000.1},{"s":"仙北","t":12.48,"p":1000.0},{"s":"仙北","t":12.57,"p":999.8},{"s":"仙北","t":12.64,"p":999.9},{"s":"仙北","t":12.72,"p":999.8},{"s":"仙北","t":12.90,"p":999.7},{"s":"仙北","t":13.04,"p":999.5},{"s":"仙北","t":13.10,"p":999.3},{"s":"仙北","t":13.34,"p":999.4},{"s":"仙北","t":13.37,"p":999.3},{"s":"仙北","t":13.50,"p":999.2},{"s":"仙北","t":13.64,"p":999.1},{"s":"仙北","t":13.67,"p":999.2},{"s":"仙北","t":13.76,"p":999.1},{"s":"仙北","t":13.79,"p":999.2},{"s":"仙北","t":13.82,"p":999.1},{"s":"仙北","t":13.91,"p":999.0},{"s":"仙北","t":13.96,"p":998.9},{"s":"仙北","t":14.00,"p":999.0},{"s":"仙北","t":14.06,"p":998.9},{"s":"仙北","t":14.11,"p":999.0},{"s":"仙北","t":14.21,"p":998.9},{"s":"仙北","t":14.40,"p":999.0},{"s":"仙北","t":14.49,"p":999.1},{"s":"仙北","t":14.56,"p":999.0},{"s":"仙北","t":14.61,"p":998.9},{"s":"仙北","t":14.68,"p":999.0},{"s":"仙北","t":14.74,"p":998.9},{"s":"仙北","t":14.80,"p":998.8},{"s":"仙北","t":14.98,"p":998.7},{"s":"仙北","t":15.21,"p":998.6},{"s":"仙北","t":15.26,"p":998.7},{"s":"仙北","t":15.30,"p":998.6},{"s":"仙北","t":15.36,"p":998.7},{"s":"仙北","t":15.47,"p":998.8},{"s":"仙北","t":15.56,"p":998.9},{"s":"仙北","t":15.60,"p":998.8},{"s":"仙北","t":15.63,"p":998.9},{"s":"仙北","t":15.74,"p":999.0},{"s":"仙北","t":16.07,"p":999.1},{"s":"仙北","t":16.16,"p":999.0},{"s":"仙北","t":16.22,"p":998.8},{"s":"仙北","t":16.31,"p":998.7},{"s":"仙北","t":16.40,"p":998.8},{"s":"仙北","t":16.46,"p":998.9},{"s":"仙北","t":16.64,"p":998.8},{"s":"仙北","t":16.76,"p":998.9},{"s":"仙北","t":17.05,"p":999.0},{"s":"仙北","t":17.13,"p":998.9},{"s":"仙北","t":17.25,"p":999.0},{"s":"仙北","t":17.43,"p":999.1},{"s":"仙北","t":17.52,"p":999.0},{"s":"仙北","t":17.56,"p":999.1},{"s":"仙北","t":17.70,"p":999.2},{"s":"仙北","t":17.82,"p":999.3},{"s":"仙北","t":17.87,"p":999.4},{"s":"仙北","t":17.97,"p":999.3},{"s":"仙北","t":18.00,"p":999.4},{"s":"仙北","t":18.06,"p":999.3},{"s":"仙北","t":18.14,"p":999.4},{"s":"仙北","t":18.24,"p":999.5},{"s":"仙北","t":18.39,"p":999.6},{"s":"仙北","t":18.48,"p":999.7},{"s":"仙北","t":18.59,"p":999.6},{"s":"仙北","t":18.64,"p":999.7},{"s":"仙北","t":18.76,"p":999.6},{"s":"仙北","t":18.85,"p":999.7},{"s":"仙北","t":18.94,"p":999.6},{"s":"仙北","t":19.00,"p":999.8},{"s":"仙北","t":19.07,"p":999.7},{"s":"仙北","t":19.10,"p":999.8},{"s":"仙北","t":19.15,"p":999.9},{"s":"仙北","t":19.21,"p":1000.0},{"s":"仙北","t":19.25,"p":1000.1},{"s":"仙北","t":19.36,"p":1000.2},{"s":"仙北","t":19.44,"p":1000.3},{"s":"仙北","t":19.51,"p":1000.4},{"s":"仙北","t":19.60,"p":1000.5},{"s":"仙北","t":19.68,"p":1000.6},{"s":"仙北","t":19.74,"p":1000.7},{"s":"仙北","t":19.80,"p":1000.8},{"s":"仙北","t":19.84,"p":1000.9},{"s":"仙北","t":19.93,"p":1000.8},{"s":"仙北","t":19.98,"p":1000.9},{"s":"仙北","t":20.02,"p":1001.0},{"s":"仙北","t":20.05,"p":1001.1},{"s":"仙北","t":20.36,"p":1001.2},{"s":"仙北","t":20.57,"p":1001.3},{"s":"仙北","t":20.66,"p":1001.2},{"s":"仙北","t":20.70,"p":1001.1},{"s":"仙北","t":20.76,"p":1001.0},{"s":"仙北","t":20.79,"p":1001.1},{"s":"仙北","t":20.82,"p":1001.0},{"s":"仙北","t":20.88,"p":1001.1},{"s":"仙北","t":20.93,"p":1001.0},{"s":"仙北","t":21.44,"p":1000.9},{"s":"仙北","t":21.55,"p":1000.8},{"s":"仙北","t":21.62,"p":1000.9},{"s":"仙北","t":21.85,"p":1000.8},{"s":"仙北","t":21.91,"p":1000.7},{"s":"仙北","t":22.00,"p":1000.7},
{"s":"土淵","t":2.00,"p":998.8},{"s":"土淵","t":2.05,"p":999.0},{"s":"土淵","t":2.23,"p":999.1},{"s":"土淵","t":2.41,"p":999.0},{"s":"土淵","t":2.57,"p":999.1},{"s":"土淵","t":2.66,"p":999.2},{"s":"土淵","t":2.77,"p":999.3},{"s":"土淵","t":2.79,"p":999.2},{"s":"土淵","t":2.92,"p":999.1},{"s":"土淵","t":3.18,"p":999.3},{"s":"土淵","t":3.25,"p":999.4},{"s":"土淵","t":3.33,"p":999.3},{"s":"土淵","t":3.40,"p":999.4},{"s":"土淵","t":3.49,"p":999.5},{"s":"土淵","t":3.58,"p":999.6},{"s":"土淵","t":3.66,"p":999.7},{"s":"土淵","t":3.75,"p":999.6},{"s":"土淵","t":3.83,"p":999.5},{"s":"土淵","t":3.89,"p":999.6},{"s":"土淵","t":4.01,"p":999.8},{"s":"土淵","t":4.05,"p":999.9},{"s":"土淵","t":4.26,"p":1000.0},{"s":"土淵","t":4.32,"p":1000.1},{"s":"土淵","t":4.43,"p":1000.0},{"s":"土淵","t":4.53,"p":1000.1},{"s":"土淵","t":4.60,"p":1000.0},{"s":"土淵","t":4.64,"p":1000.1},{"s":"土淵","t":4.70,"p":1000.2},{"s":"土淵","t":4.76,"p":1000.3},{"s":"土淵","t":4.85,"p":1000.4},{"s":"土淵","t":5.00,"p":1000.5},{"s":"土淵","t":5.14,"p":1000.6},{"s":"土淵","t":5.18,"p":1000.5},{"s":"土淵","t":5.23,"p":1000.4},{"s":"土淵","t":5.52,"p":1000.5},{"s":"土淵","t":5.58,"p":1000.7},{"s":"土淵","t":5.74,"p":1000.6},{"s":"土淵","t":5.85,"p":1000.7},{"s":"土淵","t":5.94,"p":1000.8},{"s":"土淵","t":6.35,"p":1000.9},{"s":"土淵","t":6.44,"p":1000.8},{"s":"土淵","t":6.46,"p":1000.9},{"s":"土淵","t":6.74,"p":1001.0},{"s":"土淵","t":6.85,"p":1000.9},{"s":"土淵","t":6.98,"p":1000.8},{"s":"土淵","t":7.01,"p":1000.9},{"s":"土淵","t":7.17,"p":1001.0},{"s":"土淵","t":7.21,"p":1000.9},{"s":"土淵","t":7.32,"p":1001.0},{"s":"土淵","t":7.41,"p":1000.9},{"s":"土淵","t":7.48,"p":1000.8},{"s":"土淵","t":7.59,"p":1000.9},{"s":"土淵","t":7.81,"p":1000.8},{"s":"土淵","t":7.98,"p":1000.7},{"s":"土淵","t":8.06,"p":1000.6},{"s":"土淵","t":8.31,"p":1000.5},{"s":"土淵","t":8.43,"p":1000.4},{"s":"土淵","t":8.66,"p":1000.3},{"s":"土淵","t":8.83,"p":1000.2},{"s":"土淵","t":9.02,"p":1000.1},{"s":"土淵","t":9.16,"p":1000.0},{"s":"土淵","t":9.23,"p":999.8},{"s":"土淵","t":9.35,"p":999.7},{"s":"土淵","t":9.58,"p":999.6},{"s":"土淵","t":9.78,"p":999.5},{"s":"土淵","t":9.84,"p":999.4},{"s":"土淵","t":9.91,"p":999.3},{"s":"土淵","t":10.05,"p":999.2},{"s":"土淵","t":10.12,"p":999.1},{"s":"土淵","t":10.15,"p":999.2},{"s":"土淵","t":10.35,"p":999.1},{"s":"土淵","t":10.44,"p":999.2},{"s":"土淵","t":10.47,"p":999.1},{"s":"土淵","t":10.65,"p":999.0},{"s":"土淵","t":10.70,"p":999.1},{"s":"土淵","t":10.73,"p":999.0},{"s":"土淵","t":10.83,"p":998.9},{"s":"土淵","t":10.95,"p":998.8},{"s":"土淵","t":11.08,"p":998.6},{"s":"土淵","t":11.15,"p":998.7},{"s":"土淵","t":11.23,"p":998.5},{"s":"土淵","t":11.29,"p":998.4},{"s":"土淵","t":11.45,"p":998.3},{"s":"土淵","t":11.69,"p":998.2},{"s":"土淵","t":11.74,"p":998.1},{"s":"土淵","t":11.94,"p":998.0},{"s":"土淵","t":12.00,"p":998.1},{"s":"土淵","t":12.07,"p":998.0},{"s":"土淵","t":12.13,"p":998.1},{"s":"土淵","t":12.18,"p":998.0},{"s":"土淵","t":12.36,"p":997.9},{"s":"土淵","t":12.42,"p":997.8},{"s":"土淵","t":12.49,"p":997.7},{"s":"土淵","t":12.57,"p":997.6},{"s":"土淵","t":12.60,"p":997.7},{"s":"土淵","t":12.63,"p":997.6},{"s":"土淵","t":12.72,"p":997.5},{"s":"土淵","t":12.77,"p":997.6},{"s":"土淵","t":12.80,"p":997.5},{"s":"土淵","t":12.87,"p":997.4},{"s":"土淵","t":12.90,"p":997.5},{"s":"土淵","t":12.98,"p":997.3},{"s":"土淵","t":13.02,"p":997.1},{"s":"土淵","t":13.08,"p":997.2},{"s":"土淵","t":13.13,"p":997.1},{"s":"土淵","t":13.44,"p":996.9},{"s":"土淵","t":13.47,"p":997.0},{"s":"土淵","t":13.55,"p":996.9},{"s":"土淵","t":13.59,"p":997.0},{"s":"土淵","t":13.64,"p":996.9},{"s":"土淵","t":13.84,"p":996.6},{"s":"土淵","t":13.88,"p":996.8},{"s":"土淵","t":14.00,"p":996.7},{"s":"土淵","t":14.05,"p":996.8},{"s":"土淵","t":14.12,"p":996.6},{"s":"土淵","t":14.23,"p":996.7},{"s":"土淵","t":14.32,"p":996.8},{"s":"土淵","t":14.38,"p":996.9},{"s":"土淵","t":14.41,"p":996.8},{"s":"土淵","t":14.47,"p":996.7},{"s":"土淵","t":14.68,"p":996.6},{"s":"土淵","t":14.82,"p":996.5},{"s":"土淵","t":14.91,"p":996.4},{"s":"土淵","t":15.24,"p":996.3},{"s":"土淵","t":15.38,"p":996.5},{"s":"土淵","t":15.47,"p":996.6},{"s":"土淵","t":15.66,"p":996.7},{"s":"土淵","t":15.80,"p":996.5},{"s":"土淵","t":15.84,"p":996.7},{"s":"土淵","t":15.98,"p":996.8},{"s":"土淵","t":16.10,"p":996.7},{"s":"土淵","t":16.16,"p":996.4},{"s":"土淵","t":16.28,"p":996.3},{"s":"土淵","t":16.37,"p":996.5},{"s":"土淵","t":16.43,"p":996.6},{"s":"土淵","t":16.55,"p":996.5},{"s":"土淵","t":16.61,"p":996.6},{"s":"土淵","t":16.94,"p":996.4},{"s":"土淵","t":16.97,"p":996.6},{"s":"土淵","t":17.04,"p":996.5},{"s":"土淵","t":17.17,"p":996.6},{"s":"土淵","t":17.37,"p":996.7},{"s":"土淵","t":17.55,"p":996.8},{"s":"土淵","t":17.85,"p":996.9},{"s":"土淵","t":18.09,"p":997.0},{"s":"土淵","t":18.15,"p":996.9},{"s":"土淵","t":18.26,"p":997.1},{"s":"土淵","t":18.33,"p":997.2},{"s":"土淵","t":18.54,"p":997.3},{"s":"土淵","t":18.74,"p":997.1},{"s":"土淵","t":18.79,"p":997.2},{"s":"土淵","t":18.83,"p":997.1},{"s":"土淵","t":18.91,"p":997.2},{"s":"土淵","t":18.97,"p":997.1},{"s":"土淵","t":19.06,"p":997.3},{"s":"土淵","t":19.15,"p":997.4},{"s":"土淵","t":19.21,"p":997.5},{"s":"土淵","t":19.27,"p":997.4},{"s":"土淵","t":19.34,"p":997.7},{"s":"土淵","t":19.44,"p":997.6},{"s":"土淵","t":19.50,"p":998.0},{"s":"土淵","t":19.60,"p":998.1},{"s":"土淵","t":19.66,"p":998.3},{"s":"土淵","t":19.72,"p":998.4},{"s":"土淵","t":19.80,"p":998.5},{"s":"土淵","t":19.86,"p":998.6},{"s":"土淵","t":19.99,"p":998.8},{"s":"土淵","t":20.02,"p":998.9},{"s":"土淵","t":20.13,"p":998.8},{"s":"土淵","t":20.17,"p":998.9},{"s":"土淵","t":20.45,"p":999.0},{"s":"土淵","t":20.64,"p":998.9},{"s":"土淵","t":20.70,"p":998.8},{"s":"土淵","t":20.78,"p":998.7},{"s":"土淵","t":20.82,"p":998.9},{"s":"土淵","t":20.88,"p":998.8},{"s":"土淵","t":20.91,"p":998.9},{"s":"土淵","t":20.96,"p":998.8},{"s":"土淵","t":21.32,"p":998.7},{"s":"土淵","t":21.38,"p":998.6},{"s":"土淵","t":21.77,"p":998.5},{"s":"土淵","t":21.86,"p":998.4},{"s":"土淵","t":21.98,"p":998.3},{"s":"土淵","t":22.00,"p":998.3}
]},
"resolve":{"axis":{"x":"independent","y":"independent"}},
"layer":[
{"data":{"name":"series"},
 "mark":{"type":"line","interpolate":"step-after","strokeWidth":3},
 "encoding":{
  "x":{"field":"t","type":"quantitative","scale":{"domain":[2,22],"nice":false,"zero":false},
   "axis":{"values":[3,4,5,6,7,8,9,10,11,12,13,14,15,16,17,18,19,20,21],
    "tickSize":{"condition":{"test":"datum.value % 4 === 0","value":-23},"value":-12},
    "tickWidth":2,"tickColor":"black","domain":false,"grid":false,
    "labelExpr":"datum.value % 4 === 0 ? (datum.value < 10 ? '0' : '') + datum.value + ':00' : ''",
    "labelFont":"DejaVu Sans","labelFontSize":58,"labelColor":"black","labelPadding":59,"labelFlush":false,"labelOverlap":false,
    "title":"時間","titleFont":"Noto Sans CJK JP","titleFontSize":56,"titleFontWeight":"normal","titleColor":"black","titlePadding":13}},
  "y":{"field":"p","type":"quantitative","scale":{"domain":[994,1004],"nice":false,"zero":false},
   "axis":{"values":[994,995,996,997,998,999,1000,1001,1002,1003,1004],"format":"d",
    "tickSize":-23,"tickWidth":2,"tickColor":"black","domain":false,"grid":false,
    "labelFont":"DejaVu Sans","labelFontSize":59,"labelColor":"black","labelPadding":62,"labelFlush":false,"labelOverlap":false,"labelBound":false,
    "title":"気圧 (hPa)","titleFont":"Noto Sans CJK JP","titleFontSize":57,"titleFontWeight":"normal","titleColor":"black","titlePadding":65}},
  "color":{"field":"s","type":"nominal",
   "scale":{"domain":["岩大","附属小","黒石野","桜木","仙北","土淵"],"range":["#ff0000","#00ff00","#0000ff","#ff00ff","#00ffff","#ffff00"]},
   "legend":{"orient":"none","legendX":356,"legendY":957.7,"title":null,"padding":0,
    "symbolType":"M-3.321,0H3.321","symbolSize":2809,"symbolStrokeWidth":3,"rowPadding":2.3,
    "labelFont":"Noto Sans CJK JP","labelFontSize":56,"labelColor":"black","labelAlign":"right","labelOffset":-156,"labelLimit":0}}
 }},
{"data":{"name":"box"},
 "mark":{"type":"rect","filled":false,"color":"#ff3390","strokeWidth":12,"cornerRadius":40},
 "encoding":{
  "x":{"field":"t1","type":"quantitative","scale":{"domain":[2,22],"nice":false,"zero":false},
   "axis":{"orient":"top","values":[3,4,5,6,7,8,9,10,11,12,13,14,15,16,17,18,19,20,21],
    "tickSize":{"condition":{"test":"datum.value % 4 === 0","value":-23},"value":-12},
    "tickWidth":2,"tickColor":"black","domain":false,"grid":false,"labels":false,"title":null}},
  "x2":{"field":"t2"},
  "y":{"field":"p1","type":"quantitative","scale":{"domain":[994,1004],"nice":false,"zero":false},
   "axis":{"orient":"right","values":[995,996,997,998,999,1000,1001,1002,1003],
    "tickSize":-23,"tickWidth":2,"tickColor":"black","domain":false,"grid":false,"labels":false,"title":null}},
  "y2":{"field":"p2"}
 }}
]
}
